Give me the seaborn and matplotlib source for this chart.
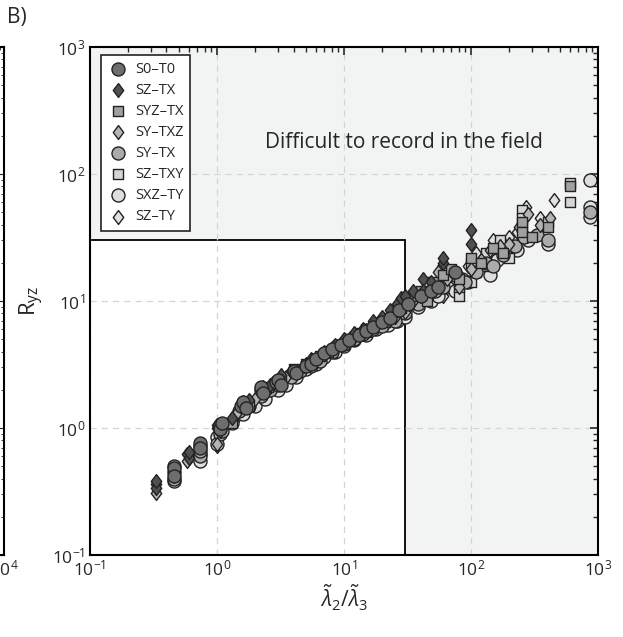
import numpy as np
import pandas as pd
import matplotlib
matplotlib.use("Agg")
import matplotlib.pyplot as plt
import seaborn as sns
from matplotlib.patches import Rectangle
from matplotlib.ticker import NullFormatter

sns.set_style("white")
plt.rcParams['font.family'] = ['Open Sans', 'DejaVu Sans']
plt.rcParams['mathtext.fontset'] = 'custom'
plt.rcParams['mathtext.rm'] = 'Open Sans'
plt.rcParams['mathtext.it'] = 'Open Sans:italic'

# series (x = lambda2/lambda3, y = Ryz)
s0_t0_x = [0.46, 0.46, 0.46, 0.74, 0.74, 0.74, 1.05, 1.05, 1.1, 1.55, 1.6, 1.7, 2.2, 2.2, 2.3, 2.9, 3.0, 3.2, 4.0, 4.2,
           5.0, 5.5, 6.0, 7.0, 8.0, 9.5, 11, 13, 15, 17, 20, 23, 27, 32, 40, 48, 55, 75]
s0_t0_y = [0.45, 0.48, 0.42, 0.72, 0.76, 0.70, 1.05, 0.98, 1.1, 1.5, 1.6, 1.45, 2.0, 2.1, 1.9, 2.3, 2.4, 2.2, 2.8, 2.7,
           3.1, 3.2, 3.5, 3.9, 4.2, 4.5, 4.9, 5.4, 5.8, 6.2, 6.8, 7.4, 8.5, 9.5, 11, 12, 13, 17]

sz_tx_x = [0.33, 0.33, 0.33, 0.58, 0.6, 0.6, 1.0, 1.0, 1.3, 1.6, 1.8, 2.3, 2.6, 3.2, 3.8, 4.8, 5.5, 7.0, 8.5, 10,
           12, 14, 17, 20, 23, 26, 28, 30, 35, 42, 42, 48, 60, 60, 100, 100]
sz_tx_y = [0.36, 0.34, 0.38, 0.62, 0.58, 0.65, 1.0, 1.05, 1.2, 1.6, 1.65, 2.1, 2.2, 2.6, 2.8, 3.1, 3.5, 4.0, 4.5, 5.0,
           5.6, 6.0, 7.0, 7.5, 8.5, 9.5, 10.5, 11, 12, 15, 12, 14, 20, 22, 36, 28]

syz_tx_x = [1.3, 1.8, 2.5, 3.2, 4.0, 5.0, 6.5, 7.5, 9.0, 11, 13, 15, 18, 21, 25, 28, 32, 35, 40, 45,
            50, 60, 70, 80, 100, 120, 150, 180, 250, 250, 300, 400, 600]
syz_tx_y = [1.1, 1.5, 2.1, 2.4, 2.9, 3.2, 3.7, 4.0, 4.5, 5.0, 5.6, 6.0, 6.7, 7.3, 8.2, 8.8, 9.5, 11, 12, 10,
            14, 16, 18, 15, 22, 20, 26, 24, 42, 35, 32, 38, 80]

sy_txz_x = [0.33, 0.46, 0.58, 1.0, 1.05, 1.4, 2.0, 2.6, 3.5, 4.3, 5.0, 6.5, 8.0, 10, 12, 15, 18, 22, 25, 30,
            35, 40, 48, 55, 65, 80, 100, 120, 140, 170, 200, 240, 280, 350, 420]
sy_txz_y = [0.31, 0.42, 0.55, 0.75, 0.95, 1.3, 1.7, 2.1, 2.5, 2.8, 3.2, 3.7, 4.3, 4.7, 5.2, 5.9, 6.6, 7.0, 7.5, 8.2,
            10, 11, 12, 17, 15, 13, 18, 21, 25, 27, 28, 38, 48, 40, 45]

sy_tx_x = [0.46, 0.46, 0.74, 0.74, 1.05, 1.1, 1.5, 1.8, 2.2, 2.6, 3.0, 3.8, 4.5, 5.5, 6.5, 8, 10, 12, 14, 17,
           20, 25, 30, 38, 45, 52, 60, 75, 90, 110, 130, 150, 180, 220, 260, 330, 400, 870]
sy_tx_y = [0.40, 0.50, 0.60, 0.66, 0.90, 0.95, 1.35, 1.5, 1.8, 2.0, 2.2, 2.5, 2.8, 3.1, 3.4, 4.0, 4.6, 5.0, 5.5, 6.0,
           6.3, 7.0, 8.0, 9.5, 11, 12, 13, 16, 14, 17, 20, 19, 23, 27, 32, 33, 30, 50]

sz_txy_x = [3.0, 4.0, 5.0, 6.5, 8.0, 10, 12, 15, 18, 21, 25, 30, 34, 40, 45, 45, 52, 60, 60, 70,
            80, 80, 100, 100, 110, 130, 130, 170, 200, 250, 250, 250, 400, 600, 600]
sz_txy_y = [2.3, 2.7, 3.1, 3.5, 4.0, 4.6, 5.2, 5.7, 6.3, 6.8, 7.6, 8.5, 9.5, 10, 12, 14, 13, 18, 15, 16,
            11, 13, 14, 20, 17, 24, 19, 30, 22, 52, 45, 38, 42, 85, 60]

sxz_ty_x = [0.46, 0.74, 0.74, 1.0, 1.0, 1.3, 1.6, 2.0, 2.4, 3.0, 3.5, 4.2, 5.0, 6.0, 7.0, 8.5, 10, 12, 15, 18,
            22, 26, 30, 38, 48, 55, 65, 75, 85, 95, 110, 140, 160, 190, 230, 280, 400, 870, 870, 870]
sxz_ty_y = [0.38, 0.55, 0.62, 0.85, 0.75, 1.1, 1.3, 1.5, 1.7, 2.0, 2.2, 2.5, 2.9, 3.2, 3.6, 4.0, 4.4, 4.9, 5.4, 6.0,
            6.5, 7.0, 7.5, 9.0, 10, 11, 13, 12, 15, 14, 18, 16, 21, 26, 25, 30, 28, 90, 46, 55]

sz_ty_x = [1.0, 1.4, 2.0, 2.8, 4.0, 5.5, 7.0, 9, 11, 13, 16, 20, 24, 27, 30, 38, 45, 52, 60, 70,
           80, 95, 110, 130, 150, 200, 230, 270, 350, 450]
sz_ty_y = [0.72, 1.2, 1.6, 2.1, 2.6, 3.2, 3.8, 4.4, 4.9, 5.3, 5.8, 6.5, 7.2, 7.8, 8.5, 10, 12, 13, 11, 14,
           16, 19, 24, 22, 30, 32, 35, 55, 45, 62]

names = ['S0–T0', 'SZ–TX', 'SYZ–TX', 'SY–TXZ', 'SY–TX', 'SZ–TXY', 'SXZ–TY', 'SZ–TY']
xs = [s0_t0_x, sz_tx_x, syz_tx_x, sy_txz_x, sy_tx_x, sz_txy_x, sxz_ty_x, sz_ty_x]
ys = [s0_t0_y, sz_tx_y, syz_tx_y, sy_txz_y, sy_tx_y, sz_txy_y, sxz_ty_y, sz_ty_y]
colors = ['#6e6e6e', '#505050', '#a0a0a0', '#b4b4b4', '#ababab', '#d6d6d6', '#dedede', '#e0e0e0']

diamond = [(0, 1), (0.75, 0), (0, -1), (-0.75, 0), (0, 1)]
markers = ['o', diamond, 's', diamond, 'o', 's', 'o', diamond]
sizes = [88, 100, 52, 100, 88, 52, 88, 100]

fig = plt.figure(figsize=(6.23, 6.37), dpi=100)

# edge of panel A, mostly off the figure
ax0 = fig.add_axes([-0.5, 0.1287, 0.5 + 4 / 623, 0.7975])
ax0.set_xscale('log')
ax0.set_yscale('log')
ax0.set_xlim(1e0, 1e4)
ax0.set_ylim(1e-1, 1e3)
ax0.set_xticks([1e4])
ax0.xaxis.set_minor_formatter(NullFormatter())
ax0.tick_params(which='both', direction='in', top=True, right=True, labelleft=False, labelsize=12.5)
for sp in ax0.spines.values():
    sp.set_linewidth(1.5)
    sp.set_color('black')

ax = fig.add_axes([0.1445, 0.1287, 0.8155, 0.7975])
ax.set_facecolor('#f2f3f3')
ax.set_xscale('log')
ax.set_yscale('log')
ax.set_xlim(1e-1, 1e3)
ax.set_ylim(1e-1, 1e3)

ax.add_patch(Rectangle((0.1, 0.1), 29.9, 29.9, facecolor='white',
                       edgecolor='black', linewidth=1.3, zorder=0.2))
ax.set_axisbelow(True)
ax.grid(True, which='major', linestyle=(0, (5, 4)), color='#d4d4d4', linewidth=0.9)

# darker groups sit on top, as in the original
for i in range(len(names)):
    df = pd.DataFrame({'x': xs[i], 'y': ys[i]})
    sns.scatterplot(data=df, x='x', y='y', ax=ax, marker=markers[i], s=sizes[i],
                    color=colors[i], edgecolor='#222222', linewidth=1.0,
                    label=names[i], zorder=10 - i)

ax.text(2.4, 178, 'Difficult to record in the field', fontsize=15,
        va='center', ha='left')

leg = ax.legend(loc='upper left', bbox_to_anchor=(0.015, 0.99), fontsize=10.5,
                frameon=True, fancybox=False, edgecolor='#222222',
                handletextpad=0.4, labelspacing=0.42, borderpad=0.45,
                handlelength=1.5, borderaxespad=0.2)
leg.set_zorder(20)
leg.get_frame().set_linewidth(1.2)
leg.get_frame().set_facecolor('white')
leg.get_frame().set_alpha(1)

ax.tick_params(which='major', direction='in', length=6, width=1.2, top=True, right=True, labelsize=12.5)
ax.tick_params(which='minor', direction='in', length=3.5, width=1.0, top=True, right=True)
for sp in ax.spines.values():
    sp.set_linewidth(1.5)
    sp.set_color('black')
    sp.set_zorder(15)

ax.set_xlabel(r'$\tilde{\lambda}_2/\tilde{\lambda}_3$', fontsize=15, labelpad=2)
ax.set_ylabel(r'$\mathrm{R_{yz}}$', fontsize=16, labelpad=4)

fig.text(0.012, 0.972, 'B)', fontsize=15, va='center')

fig.savefig('out.png', dpi=100)
